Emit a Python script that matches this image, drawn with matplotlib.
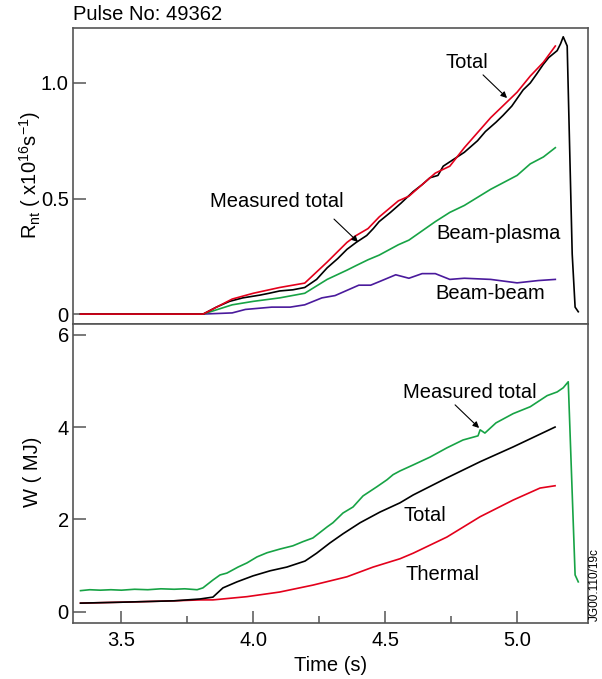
import matplotlib
matplotlib.use('Agg')
import matplotlib.pyplot as plt

plt.rcParams['font.family'] = ['Liberation Sans', 'DejaVu Sans']
plt.rcParams['mathtext.fontset'] = 'custom'
plt.rcParams['mathtext.rm'] = 'Liberation Sans'
plt.rcParams['mathtext.it'] = 'Liberation Sans:italic'

RED = '#e3001b'
GREEN = '#17a345'
PURPLE = '#4a1a9c'
AXIS = '#555555'
FS = 14.5

# ---- top panel: neutron rate (x1e16 /s) ----
t_meas_r = [3.345, 3.81, 3.86, 3.91, 3.96, 4.025, 4.06, 4.10, 4.15, 4.195, 4.24,
            4.28, 4.32, 4.355, 4.39, 4.43, 4.455, 4.477, 4.52, 4.56, 4.606, 4.64,
            4.67, 4.70, 4.72, 4.76, 4.80, 4.85, 4.88, 4.92, 4.947, 4.98, 5.023,
            5.05, 5.075, 5.099, 5.12, 5.152, 5.165, 5.175, 5.19, 5.209, 5.22, 5.232]
meas_r = [0, 0, 0.03, 0.055, 0.07, 0.082, 0.09, 0.10, 0.105, 0.115, 0.15,
          0.20, 0.24, 0.28, 0.31, 0.34, 0.37, 0.40, 0.44, 0.48, 0.53, 0.56,
          0.59, 0.60, 0.64, 0.67, 0.70, 0.75, 0.79, 0.83, 0.86, 0.90, 0.97,
          1.00, 1.04, 1.08, 1.11, 1.14, 1.17, 1.20, 1.16, 0.26, 0.03, 0.01]

t_calc_r = [3.345, 3.81, 3.92, 4.0, 4.10, 4.195, 4.28, 4.355, 4.39, 4.435, 4.477,
            4.55, 4.59, 4.69, 4.745, 4.80, 4.90, 5.00, 5.05, 5.10, 5.145]
total_r = [0, 0, 0.065, 0.09, 0.115, 0.134, 0.225, 0.31, 0.34, 0.37, 0.42,
           0.49, 0.51, 0.61, 0.64, 0.72, 0.85, 0.96, 1.03, 1.09, 1.16]
bp_r = [0, 0, 0.04, 0.055, 0.07, 0.09, 0.15, 0.19, 0.21, 0.235, 0.255,
        0.30, 0.32, 0.40, 0.44, 0.47, 0.54, 0.60, 0.65, 0.68, 0.72]

t_bb = [3.345, 3.81, 3.92, 3.97, 4.07, 4.14, 4.195, 4.26, 4.31, 4.40, 4.445,
        4.477, 4.54, 4.59, 4.64, 4.69, 4.745, 4.80, 4.90, 5.00, 5.08, 5.145]
bb_r = [0, 0, 0.005, 0.02, 0.03, 0.03, 0.04, 0.07, 0.08, 0.125, 0.125,
        0.14, 0.17, 0.155, 0.175, 0.175, 0.15, 0.155, 0.15, 0.135, 0.145, 0.15]

# ---- bottom panel: stored energy (MJ) ----
t_meas_w = [3.345, 3.38, 3.42, 3.46, 3.50, 3.55, 3.60, 3.65, 3.70, 3.74, 3.787,
            3.809, 3.847, 3.874, 3.90, 3.942, 3.976, 4.014, 4.052, 4.101, 4.15,
            4.188, 4.226, 4.28, 4.302, 4.34, 4.378, 4.416, 4.469, 4.507, 4.53,
            4.556, 4.606, 4.67, 4.734, 4.795, 4.852, 4.86, 4.878, 4.92, 4.985,
            5.05, 5.114, 5.152, 5.175, 5.194, 5.22, 5.232]
meas_w = [0.46, 0.48, 0.47, 0.48, 0.47, 0.49, 0.48, 0.50, 0.49, 0.50, 0.48,
          0.52, 0.69, 0.80, 0.84, 0.97, 1.06, 1.19, 1.28, 1.36, 1.43,
          1.52, 1.60, 1.84, 1.93, 2.14, 2.27, 2.51, 2.71, 2.86, 2.97,
          3.05, 3.18, 3.35, 3.55, 3.72, 3.81, 3.94, 3.87, 4.09, 4.29,
          4.44, 4.68, 4.76, 4.85, 4.98, 0.80, 0.65]

t_calc_w = [3.345, 3.5, 3.7, 3.798, 3.847, 3.885, 3.938, 3.999, 4.064, 4.127,
            4.196, 4.24, 4.29, 4.34, 4.405, 4.48, 4.556, 4.606, 4.734, 4.86,
            4.985, 5.144]
total_w = [0.19, 0.21, 0.24, 0.28, 0.32, 0.52, 0.65, 0.78, 0.89, 0.97,
           1.10, 1.27, 1.49, 1.69, 1.93, 2.16, 2.36, 2.53, 2.90, 3.25,
           3.57, 4.00]

t_th = [3.345, 3.5, 3.7, 3.8, 3.847, 3.976, 4.10, 4.226, 4.355, 4.454, 4.556,
        4.606, 4.734, 4.86, 4.985, 5.087, 5.144]
thermal_w = [0.19, 0.21, 0.24, 0.26, 0.26, 0.33, 0.43, 0.58, 0.76, 0.97, 1.15,
             1.27, 1.62, 2.06, 2.42, 2.68, 2.73]

fig = plt.figure(figsize=(6.02, 6.79), dpi=100)
L, R = 73 / 602, 587.5 / 602
ax1 = fig.add_axes([L, 1 - 324 / 679, R - L, (324 - 28) / 679])
ax2 = fig.add_axes([L, 1 - 623 / 679, R - L, (623 - 324) / 679])

lw = 1.2
ax1.plot(t_bb, bb_r, color=PURPLE, lw=lw)
ax1.plot(t_calc_r, bp_r, color=GREEN, lw=lw)
ax1.plot(t_meas_r, meas_r, color='black', lw=lw)
ax1.plot(t_calc_r, total_r, color=RED, lw=lw)

ax2.plot(t_meas_w, meas_w, color=GREEN, lw=lw)
ax2.plot(t_th, thermal_w, color=RED, lw=lw)
ax2.plot(t_calc_w, total_w, color='black', lw=lw)

for ax in (ax1, ax2):
    ax.set_xlim(3.3165, 5.267)
    for s in ax.spines.values():
        s.set_color(AXIS)
        s.set_linewidth(1.2)
    ax.tick_params(direction='in', length=9, width=1.1, color=AXIS,
                   labelsize=FS, pad=3)

ax1.set_ylim(-0.043, 1.238)
ax1.set_yticks([0, 0.5, 1.0])
ax1.set_yticklabels(['0', '0.5', '1.0'])
ax1.set_xticks([])

ax2.set_ylim(-0.24, 6.23)
ax2.set_yticks([0, 2, 4, 6])
ax2.set_xticks([3.5, 4.0, 4.5, 5.0])
ax2.set_xticklabels(['3.5', '4.0', '4.5', '5.0'])
ax2.set_xticks([3.75, 4.25, 4.75], minor=True)
ax2.tick_params(axis='x', which='major', pad=6)
ax2.tick_params(axis='x', which='minor', direction='in', length=5, width=1.1, color=AXIS)
ax2.set_xlabel('Time (s)', fontsize=FS, labelpad=4)

fig.text(L, 1 - 14 / 679, 'Pulse No: 49362', fontsize=FS, ha='left', va='center')
fig.text(30 / 602, 1 - 175 / 679,
         r'R$_\mathregular{nt}$ ( x10$^\mathregular{16}$s$^\mathregular{−1}$)',
         rotation=90, fontsize=FS, ha='center', va='center')
fig.text(33 / 602, 1 - 472 / 679, 'W ( MJ)', rotation=90, fontsize=FS,
         ha='center', va='center')
fig.text(595 / 602, 1 - 585 / 679, 'JG00.110/19c', rotation=90, fontsize=8.5,
         ha='center', va='center')

# labels, with the arrows drawn from the point where they leave the text
arrow = dict(arrowstyle='-|>', color='black', lw=0.8, mutation_scale=9,
             shrinkA=0, shrinkB=0)
ax1.text(4.81, 1.087, 'Total', fontsize=FS, ha='center', va='center')
ax1.annotate('', xy=(4.962, 0.935), xytext=(4.871, 1.035), arrowprops=arrow)
ax1.text(4.091, 0.485, 'Measured total', fontsize=FS, ha='center', va='center')
ax1.annotate('', xy=(4.397, 0.312), xytext=(4.306, 0.411), arrowprops=arrow)
ax1.text(4.928, 0.35, 'Beam-plasma', fontsize=FS, ha='center', va='center')
ax1.text(4.898, 0.09, 'Beam-beam', fontsize=FS, ha='center', va='center')

ax2.text(4.822, 4.74, 'Measured total', fontsize=FS, ha='center', va='center')
ax2.annotate('', xy=(4.856, 3.98), xytext=(4.765, 4.48), arrowprops=arrow)
ax2.text(4.651, 2.08, 'Total', fontsize=FS, ha='center', va='center')
ax2.text(4.716, 0.80, 'Thermal', fontsize=FS, ha='center', va='center')

fig.savefig('out.png', dpi=100)
